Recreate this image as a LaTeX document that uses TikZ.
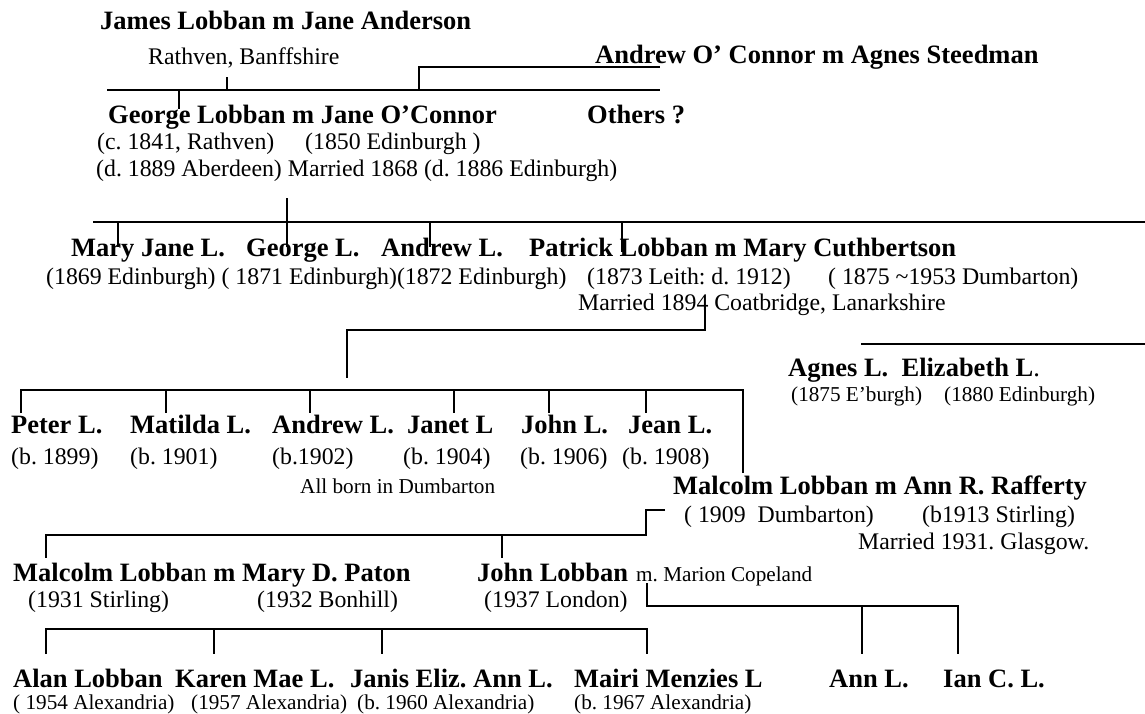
\documentclass[tikz,border=0pt]{standalone}
\usepackage{fontspec}
\setmainfont{Liberation Serif}
\tikzset{
  nm/.style={anchor=base west, inner sep=0pt, font=\fontsize{26.5pt}{30pt}\selectfont\bfseries},
  rg/.style={anchor=base west, inner sep=0pt, font=\fontsize{23.8pt}{27pt}\selectfont},
  sm/.style={anchor=base west, inner sep=0pt, font=\fontsize{21.2pt}{24pt}\selectfont},
  link/.style={line width=2pt}
}
\begin{document}
\frenchspacing
\begin{tikzpicture}[x=1pt,y=-1pt]
\useasboundingbox (0,0) rectangle (1145,713);

% ---- generation 1 ----
\node[nm] (james)   at (100,29)  {James Lobban m Jane Anderson};
\node[rg] (rathven) at (148,64)  {Rathven, Banffshire};
\node[nm] (oconnor) at (595,63)  {Andrew O’ Connor m Agnes Steedman};

% ---- generation 2 ----
\node[nm] (george)  at (108,123) {George Lobban m Jane O’Connor};
\node[nm] (others)  at (587,123) {Others ?};
\node[rg] (gborn)   at (97,149)  {(c. 1841, Rathven)};
\node[rg] (jborn)   at (305,149) {(1850 Edinburgh )};
\node[rg] (gdied)   at (96,176)  {(d. 1889 Aberdeen) Married 1868 (d. 1886 Edinburgh)};

% ---- generation 3 ----
\node[nm] (maryjane) at (71,256)  {Mary Jane L.};
\node[nm] (georgeL)  at (246,256) {George L.};
\node[nm] (andrewL)  at (381,256) {Andrew L.};
\node[nm] (patrick)  at (529,256) {Patrick Lobban m Mary Cuthbertson};
\node[rg] (sibdates) at (46,284)  {(1869 Edinburgh) ( 1871 Edinburgh)(1872 Edinburgh)};
\node[rg] (pdates)   at (587,284) {(1873 Leith: d. 1912)};
\node[rg] (mdates)   at (828,284) {( 1875 \textasciitilde1953 Dumbarton)};
\node[rg] (pmarried) at (578,310) {Married 1894 Coatbridge, Lanarkshire};
\node[nm] (agnes)    at (788,376) {Agnes L.\ \ Elizabeth L{\mdseries .}};
\node[sm] (agnesd)   at (791,401) {(1875 E’burgh)};
\node[sm] (elizd)    at (944,401) {(1880 Edinburgh)};

% ---- generation 4 ----
\node[nm] (peter)   at (11,433)  {Peter L.};
\node[nm] (matilda) at (130,433) {Matilda L.};
\node[nm] (andrew2) at (272,433) {Andrew L.};
\node[nm] (janet)   at (407,433) {Janet L};
\node[nm] (john)    at (521,433) {John L.};
\node[nm] (jean)    at (628,433) {Jean L.};
\node[rg] (peterd)   at (11,464)  {(b. 1899)};
\node[rg] (matildad) at (130,464) {(b. 1901)};
\node[rg] (andrewd)  at (272,464) {(b.1902)};
\node[rg] (janetd)   at (403,464) {(b. 1904)};
\node[rg] (johnd)    at (520,464) {(b. 1906)};
\node[rg] (jeand)    at (622,464) {(b. 1908)};
\node[sm] (allborn)  at (300,493) {All born in Dumbarton};
\node[nm] (malcolm)  at (673,494) {Malcolm Lobban m Ann R. Rafferty};
\node[rg] (malcd)    at (684,522) {( 1909\ \ Dumbarton)};
\node[rg] (annd)     at (922,522) {(b1913 Stirling)};
\node[rg] (mmarried) at (858,549) {Married 1931. Glasgow.};

% ---- generation 5 ----
\node[nm] (malcolm2) at (13,581) {Malcolm Lobba{\mdseries n} m Mary D. Paton};
\node[nm] (johnl)    at (477,581) {John Lobban};
\node[sm] (marion)   at (636,581) {m. Marion Copeland};
\node[rg] (malc2d)   at (28,607)  {(1931 Stirling)};
\node[rg] (maryd)    at (257,607) {(1932 Bonhill)};
\node[rg] (johnld)   at (484,607) {(1937 London)};

% ---- generation 6 ----
\node[nm] (alan)  at (13,687)  {Alan Lobban};
\node[nm] (karen) at (175,687) {Karen Mae L.};
\node[nm] (janis) at (350,687) {Janis Eliz. Ann L.};
\node[nm] (mairi) at (574,687) {Mairi Menzies L};
\node[nm] (ann)   at (829,687) {Ann L.};
\node[nm] (ian)   at (943,687) {Ian C. L.};
\node[sm] (aland)  at (13,709)  {( 1954 Alexandria)};
\node[sm] (karend) at (191,709) {(1957 Alexandria)};
\node[sm] (janisd) at (357,709) {(b. 1960 Alexandria)};
\node[sm] (mairid) at (574,709) {(b. 1967 Alexandria)};

% ---- junction points of the tree lines ----
\coordinate (t1a) at (107,90);  \coordinate (t1b) at (660,90);
\coordinate (t1c) at (419,90);  \coordinate (t1d) at (419,67);  \coordinate (t1e) at (660,67);
\coordinate (t1f) at (227,77);  \coordinate (t1g) at (227,90);
\coordinate (t1h) at (179,90);  \coordinate (t1i) at (179,109);

\coordinate (t2a) at (93,222);  \coordinate (t2b) at (1145,222);
\coordinate (t2c) at (287,198); \coordinate (t2d) at (287,247);
\coordinate (t2e) at (118,222); \coordinate (t2f) at (118,247);
\coordinate (t2g) at (430,222); \coordinate (t2h) at (430,247);
\coordinate (t2i) at (622,222); \coordinate (t2j) at (622,252);

\coordinate (t3a) at (705,306); \coordinate (t3b) at (705,330);
\coordinate (t3c) at (347,330); \coordinate (t3d) at (347,378);
\coordinate (t3e) at (861,344); \coordinate (t3f) at (1145,344);

\coordinate (t4a) at (21,413);  \coordinate (t4b) at (21,390);
\coordinate (t4c) at (743,390); \coordinate (t4d) at (743,473);

\coordinate (t5a) at (665,510); \coordinate (t5b) at (646,510);
\coordinate (t5c) at (646,535); \coordinate (t5d) at (46,535);
\coordinate (t5e) at (46,558);  \coordinate (t5f) at (502,535); \coordinate (t5g) at (502,558);

\coordinate (t6a) at (647,583); \coordinate (t6b) at (647,606);
\coordinate (t6c) at (958,606); \coordinate (t6d) at (958,654);
\coordinate (t6e) at (862,606); \coordinate (t6f) at (862,654);

\coordinate (t7a) at (46,654);  \coordinate (t7b) at (46,629);
\coordinate (t7c) at (647,629); \coordinate (t7d) at (647,654);

% ---- tree lines ----
\draw[link] (t1a) -- (t1b);
\draw[link] (t1c) -- (t1d) -- (t1e);
\draw[link] (t1f) -- (t1g);
\draw[link] (t1h) -- (t1i);

\draw[link] (t2a) -- (t2b);
\draw[link] (t2c) -- (t2d);
\draw[link] (t2e) -- (t2f);
\draw[link] (t2g) -- (t2h);
\draw[link] (t2i) -- (t2j);

\draw[link] (t3a) -- (t3b) -- (t3c) -- (t3d);
\draw[link] (t3e) -- (t3f);

\draw[link] (t4a) -- (t4b) -- (t4c) -- (t4d);
\foreach \x in {166,310,454,549,646} \draw[link] (\x,390) -- (\x,413);

\draw[link] (t5a) -- (t5b) -- (t5c) -- (t5d) -- (t5e);
\draw[link] (t5f) -- (t5g);

\draw[link] (t6a) -- (t6b) -- (t6c) -- (t6d);
\draw[link] (t6e) -- (t6f);

\draw[link] (t7a) -- (t7b) -- (t7c) -- (t7d);
\foreach \x in {214,382} \draw[link] (\x,629) -- (\x,654);
\end{tikzpicture}
\end{document}
